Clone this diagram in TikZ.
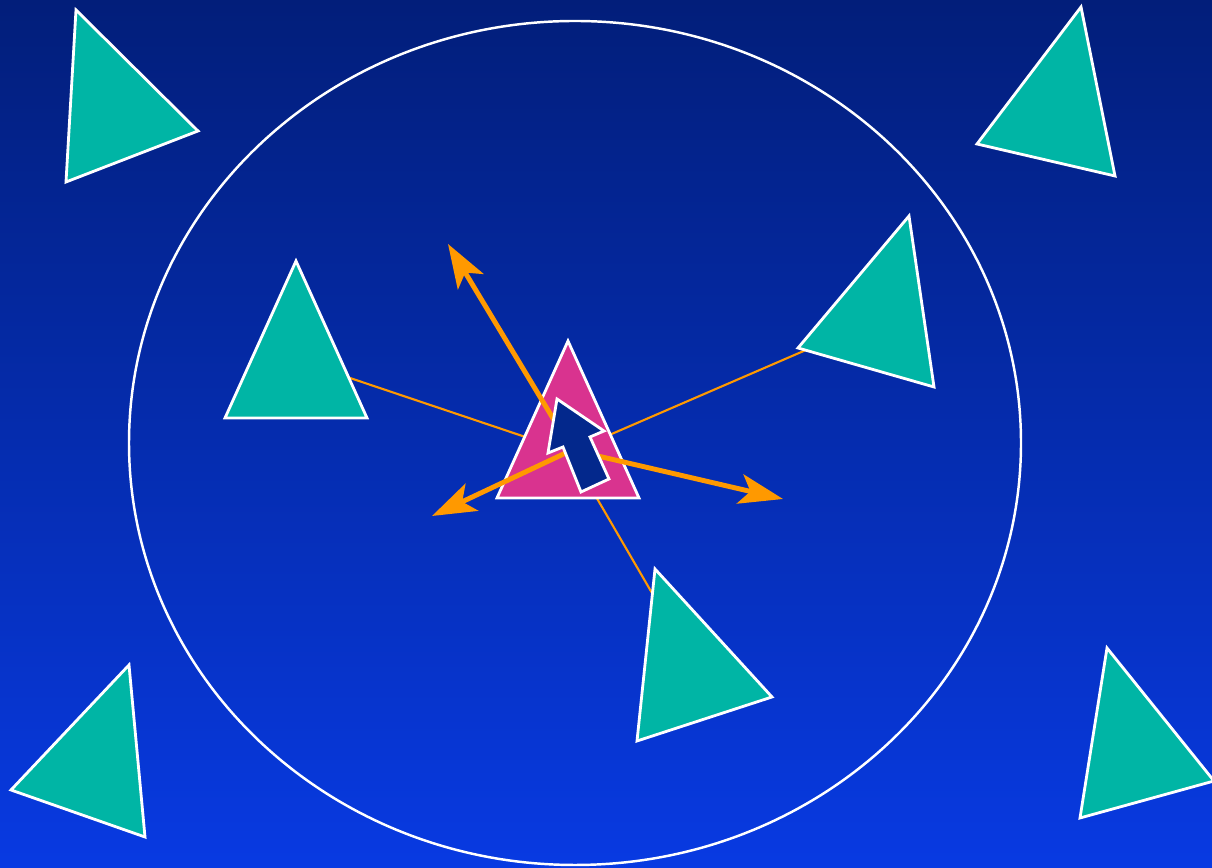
\documentclass[tikz,border=0pt]{standalone}
\usepackage{tikz}
\usetikzlibrary{arrows.meta}
\definecolor{skytop}{RGB}{2,30,122}
\definecolor{skybottom}{RGB}{8,58,226}
\definecolor{marker}{RGB}{0,181,165}
\definecolor{robotpink}{RGB}{217,51,143}
\definecolor{headnavy}{RGB}{3,40,140}
\definecolor{rayorange}{RGB}{255,153,0}

\begin{document}
\begin{tikzpicture}[
  x=0.01cm, y=-0.01cm,
  landmark/.style={fill=marker, draw=white, line width=0.8pt},
  robot/.style={fill=robotpink, draw=white, line width=0.8pt},
  heading/.style={fill=headnavy, draw=white, line width=0.8pt},
  ray/.style={draw=rayorange, line width=0.6pt},
  move/.style={draw=rayorange, line width=1.4pt,
               -{Stealth[length=12.5pt, width=8.5pt, inset=3pt]}},
  sensorrange/.style={draw=white, line width=0.7pt}
]
  %% Background
  \shade[top color=skytop, bottom color=skybottom] (0,0) rectangle (1212,868);
  \useasboundingbox (0,0) rectangle (1212,868);

  %% Sensor range
  \draw[sensorrange] (575,443) ellipse [x radius=446, y radius=422];

  %% Ray ends
  \coordinate (centre) at (570,452);
  \coordinate (hub)    at (572,450);
  \coordinate (seeL)   at (347,377);
  \coordinate (seeR)   at (806,350);
  \coordinate (seeB)   at (652,593);
  \coordinate (goU)    at (448,244);
  \coordinate (goR)    at (783,499);
  \coordinate (goL)    at (432,516);

  %% Rays to landmarks in range
  \draw[ray] (centre) -- (seeL);
  \draw[ray] (centre) -- (seeR);
  \draw[ray] (centre) -- (seeB);

  %% Landmarks
  \draw[landmark] (76,10) -- (198,131) -- (66,182) -- cycle;
  \draw[landmark] (1081,7) -- (1115,176) -- (977,144) -- cycle;
  \draw[landmark] (296,261) -- (367,418) -- (225,418) -- cycle;
  \draw[landmark] (909,216) -- (934,387) -- (798,348) -- cycle;
  \draw[landmark] (655,569) -- (772,697) -- (637,741) -- cycle;
  \draw[landmark] (129,665) -- (145,837) -- (11,790) -- cycle;
  \draw[landmark] (1107,648) -- (1214,781) -- (1080,818) -- cycle;

  %% Robot
  \draw[robot] (568,341) -- (639,498) -- (497,498) -- cycle;

  %% Possible moves
  \draw[move] (hub) -- (goU);
  \draw[move] (hub) -- (goR);
  \draw[move] (hub) -- (goL);

  %% Heading
  \draw[heading] (557,399) -- (604,431) -- (590,437) -- (609,479)
    -- (581,492) -- (563,447) -- (548,453) -- cycle;
\end{tikzpicture}
\end{document}
